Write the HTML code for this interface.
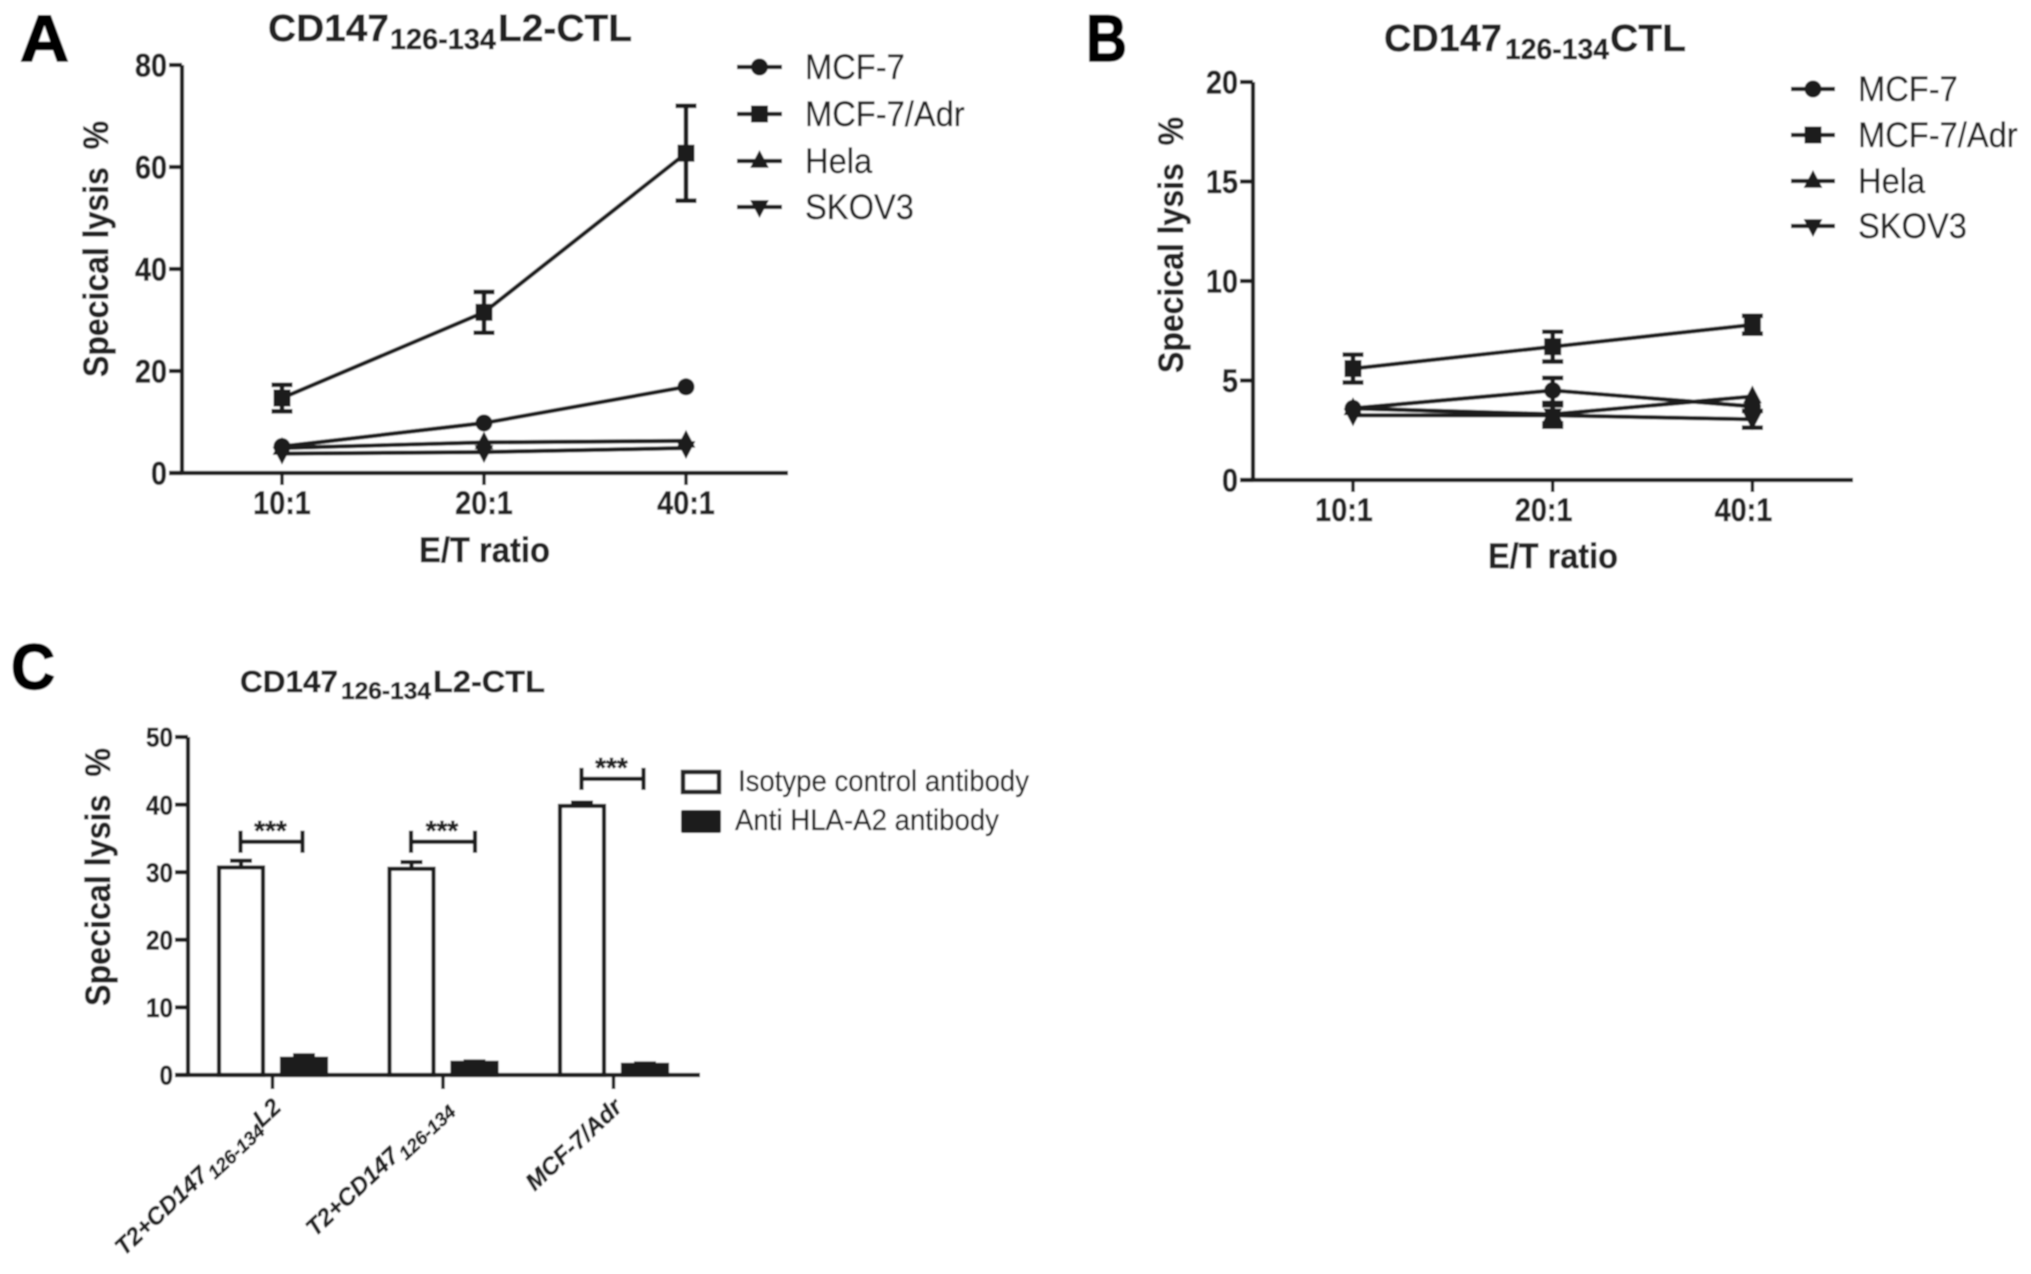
<!DOCTYPE html>
<html lang="en">
<head>
<meta charset="utf-8">
<title>CD147 specific lysis charts</title>
<style>
html,body{margin:0;padding:0;background:#fff;width:2031px;height:1274px;overflow:hidden}
svg{display:block}
text{font-family:"Liberation Sans",sans-serif;fill:#222;stroke:#222;stroke-width:.3px}
.b{font-weight:bold;stroke:#2a2a2a;stroke-width:.5px}
.panel{fill:#000;font-weight:bold;stroke:#000;stroke-width:1.5px}
</style>
</head>
<body>
<svg id="figure" xmlns="http://www.w3.org/2000/svg" width="2031" height="1274" viewBox="0 0 2031 1274">
<defs><filter id="soft" x="0" y="0" width="100%" height="100%"><feGaussianBlur stdDeviation="0.8"/></filter></defs>
<g id="root" filter="url(#soft)">
<rect width="2031" height="1274" fill="#fff"/>

<text class="panel" x="20" y="61" font-size="66" textLength="49" lengthAdjust="spacingAndGlyphs">A</text>
<text class="panel" x="1086" y="61" font-size="66" textLength="41" lengthAdjust="spacingAndGlyphs">B</text>
<text class="panel" x="11" y="689" font-size="64" textLength="44" lengthAdjust="spacingAndGlyphs">C</text>

<text class="b" font-size="38"><tspan x="268" y="41" textLength="121" lengthAdjust="spacingAndGlyphs">CD147</tspan><tspan x="390" y="49" font-size="29" textLength="106" lengthAdjust="spacingAndGlyphs">126-134</tspan><tspan x="498" y="41" textLength="134" lengthAdjust="spacingAndGlyphs">L2-CTL</tspan></text>
<text class="b" font-size="38"><tspan x="1384" y="51" textLength="118" lengthAdjust="spacingAndGlyphs">CD147</tspan><tspan x="1505" y="59" font-size="29" textLength="104" lengthAdjust="spacingAndGlyphs">126-134</tspan><tspan x="1610" y="51" textLength="76" lengthAdjust="spacingAndGlyphs">CTL</tspan></text>
<text class="b" font-size="31"><tspan x="240" y="692" textLength="98" lengthAdjust="spacingAndGlyphs">CD147</tspan><tspan x="341" y="699" font-size="24" textLength="90" lengthAdjust="spacingAndGlyphs">126-134</tspan><tspan x="433" y="692" textLength="112" lengthAdjust="spacingAndGlyphs">L2-CTL</tspan></text>

<text class="b" transform="translate(108,377) rotate(-90)" font-size="35" textLength="256" lengthAdjust="spacingAndGlyphs" xml:space="preserve">Specical lysis  %</text>
<text class="b" transform="translate(1183,373) rotate(-90)" font-size="35" textLength="256" lengthAdjust="spacingAndGlyphs" xml:space="preserve">Specical lysis  %</text>
<text class="b" transform="translate(110,1006) rotate(-90)" font-size="35" textLength="258" lengthAdjust="spacingAndGlyphs" xml:space="preserve">Specical lysis  %</text>

<text class="b" x="419" y="562" font-size="35" textLength="131" lengthAdjust="spacingAndGlyphs">E/T ratio</text>
<text class="b" x="1488" y="568" font-size="35" textLength="130" lengthAdjust="spacingAndGlyphs">E/T ratio</text>

<g id="chartA"></g>
<g id="chartB"></g>
<g id="chartC"></g>

<g id="legendA"></g>
<g id="legendB"></g>

<g>
<rect x="683" y="772" width="36" height="20" fill="#fff" stroke="#222" stroke-width="4.5"/>
<text x="738" y="791" font-size="30" textLength="291" lengthAdjust="spacingAndGlyphs">Isotype control antibody</text>
<rect x="681" y="810" width="40" height="23" rx="2" fill="#1c1c1c"/>
<text x="735" y="830" font-size="30" textLength="264" lengthAdjust="spacingAndGlyphs">Anti HLA-A2 antibody</text>
</g>
</g>
</svg>
<script>
// ---- Line chart data ----
const ratioCategories = ['10:1', '20:1', '40:1'];
const seriesNames = ['MCF-7', 'MCF-7/Adr', 'Hela', 'SKOV3'];

const aTicks = [0, 20, 40, 60, 80];
const aMcf7 = [5.2, 9.8, 16.9];
const aMcf7Err = [0, 0, 0];
const aAdr = [14.7, 31.5, 62.7];
const aAdrErr = [2.6, 4.0, 9.3];
const aHela = [4.9, 6.0, 6.3];
const aHelaErr = [0, 0, 0];
const aSkov3 = [3.8, 4.1, 4.9];
const aSkov3Err = [0, 0, 0];

const bTicks = [0, 5, 10, 15, 20];
const bMcf7 = [3.6, 4.5, 3.7];
const bMcf7Err = [0, 0.63, 0];
const bAdr = [5.6, 6.7, 7.8];
const bAdrErr = [0.7, 0.75, 0.45];
const bHela = [3.6, 3.3, 4.2];
const bHelaErr = [0, 0.45, 0];
const bSkov3 = [3.25, 3.25, 3.05];
const bSkov3Err = [0, 0.57, 0.42];

// ---- Bar chart data ----
const cTicks = [0, 10, 20, 30, 40, 50];
const cIsotype = [30.7, 30.5, 39.8];
const cIsotypeErr = [1.0, 1.0, 0.5];
const cAnti = [2.4, 1.8, 1.5];
const cAntiErr = [0.5, 0.2, 0.2];
const cBracketLevels = [34.5, 34.5, 43.8];
const cSignificance = ['***', '***', '***'];
const cCategoryMain = ['T2+CD147', 'T2+CD147', 'MCF-7/Adr'];
const cCategorySub = ['126-134', '126-134', ''];
const cCategoryTail = ['L2', '', ''];

const NS = 'http://www.w3.org/2000/svg';
const INK = '#1f1f1f';
const SW = 4.2;

function make(tag, attrs, parent) {
  const node = document.createElementNS(NS, tag);
  for (const k in attrs) node.setAttribute(k, attrs[k]);
  parent.appendChild(node);
  return node;
}

function condense(node, factor) {
  node.setAttribute('textLength', node.getComputedTextLength() * factor);
  node.setAttribute('lengthAdjust', 'spacingAndGlyphs');
}

function scale(d0, d1, r0, r1) {
  return function (v) { return r0 + (v - d0) * (r1 - r0) / (d1 - d0); };
}

function drawMarker(kind, cx, cy, s, parent) {
  let m;
  if (kind === 0) {
    m = make('circle', { cx: cx, cy: cy, r: s, fill: INK }, parent);
  } else if (kind === 1) {
    m = make('rect', { x: cx - s, y: cy - s, width: 2 * s, height: 2 * s, fill: INK }, parent);
  } else if (kind === 2) {
    m = make('polygon', { points: (cx) + ',' + (cy - s * 1.3) + ' ' + (cx + s * 1.1) + ',' + (cy + s * 0.8) + ' ' + (cx - s * 1.1) + ',' + (cy + s * 0.8), fill: INK }, parent);
  } else {
    m = make('polygon', { points: (cx) + ',' + (cy + s * 1.3) + ' ' + (cx + s * 1.1) + ',' + (cy - s * 0.8) + ' ' + (cx - s * 1.1) + ',' + (cy - s * 0.8), fill: INK }, parent);
  }
  
  
}

function drawYAxis(parent, ticks, yFn, axisX, top, bottom, fontSize) {
  const ax = make('line', { x1: axisX, x2: axisX, y1: top, y2: bottom, stroke: INK, 'stroke-width': SW }, parent);
  
  
  ticks.forEach(function (t) {
    const y = yFn(t);
    const tk = make('line', { x1: axisX - 13, x2: axisX, y1: y, y2: y, stroke: INK, 'stroke-width': SW }, parent);
    
    
    const lb = make('text', { x: axisX - 15, y: y + fontSize * 0.36, 'text-anchor': 'end', 'font-size': fontSize, 'font-weight': 'bold', class: 'b' }, parent);
    lb.textContent = t;
    
    
    condense(lb, 0.9);
  });
}

function drawLineChart(cfg) {
  const parent = cfg.parent;
  const xFn = function (i) { return cfg.x0 + i * cfg.dx; };
  const yFn = scale(0, cfg.ticks[cfg.ticks.length - 1], cfg.y0, cfg.yTop);
  drawYAxis(parent, cfg.ticks, yFn, cfg.axisX, cfg.yTop, cfg.y0 + 2, 32);
  const xa = make('line', { x1: cfg.axisX - 13, x2: cfg.axisEnd, y1: cfg.y0, y2: cfg.y0, stroke: INK, 'stroke-width': SW }, parent);
  
  
  ratioCategories.forEach(function (c, i) {
    const tk = make('line', { x1: xFn(i), x2: xFn(i), y1: cfg.y0, y2: cfg.y0 + 12, stroke: INK, 'stroke-width': 3.5 }, parent);
    
    
    const lb = make('text', { x: xFn(i) + cfg.labelShift, y: cfg.y0 + 41, 'text-anchor': 'middle', 'font-size': 32, 'font-weight': 'bold', class: 'b' }, parent);
    lb.textContent = c;
    
    
    condense(lb, 0.9);
  });
  cfg.series.forEach(function (vals, s) {
    const errs = cfg.errors[s];
    const pts = vals.map(function (v, i) { return xFn(i) + ',' + yFn(v); }).join(' ');
    const pl = make('polyline', { points: pts, fill: 'none', stroke: INK, 'stroke-width': SW }, parent);
    
    
    vals.forEach(function (v, i) {
      const x = xFn(i), hi = yFn(v + errs[i]), lo = yFn(v - errs[i]);
      if (errs[i] > 0) {
        const d = 'M' + x + ' ' + hi + 'V' + lo + 'M' + (x - 10.5) + ' ' + hi + 'H' + (x + 10.5) + 'M' + (x - 10.5) + ' ' + lo + 'H' + (x + 10.5);
        const eb = make('path', { d: d, fill: 'none', stroke: INK, 'stroke-width': 4.6 }, parent);
        
        
      }
      drawMarker(s, x, yFn(v), 8.5, parent);
    });
  });
}

function drawLegend(parent, lineX0, lineX1, textX, ys) {
  seriesNames.forEach(function (name, s) {
    const y = ys[s];
    const ln = make('line', { x1: lineX0, x2: lineX1, y1: y, y2: y, stroke: INK, 'stroke-width': SW }, parent);
    
    
    drawMarker(s, (lineX0 + lineX1) / 2, y, 8.5, parent);
    const tx = make('text', { x: textX, y: y + 12, 'font-size': 35.5 }, parent);
    tx.textContent = name;
    
    
    condense(tx, 0.92);
  });
}

function drawBarChart(parent) {
  const axisX = 188, y0 = 1075, yTop = 737, axisEnd = 700;
  const yFn = scale(0, 50, y0, yTop);
  const groupX = function (i) { return 272.5 + i * 170.5; };
  drawYAxis(parent, cTicks, yFn, axisX, yTop, y0 + 2, 27);
  const drawBar = function (x, w, v, e, filled) {
    const top = yFn(v);
    const ec = make('path', { d: 'M' + x + ' ' + top + 'V' + yFn(v + e) + 'M' + (x - 11) + ' ' + yFn(v + e) + 'H' + (x + 11), fill: 'none', stroke: INK, 'stroke-width': SW }, parent);
    
    
    const r = make('rect', { x: x - w / 2, y: top, width: w, height: y0 - top, fill: filled ? '#1c1c1c' : '#fff', stroke: INK, 'stroke-width': SW }, parent);
    
    
  };
  cIsotype.forEach(function (v, i) {
    const g = groupX(i);
    drawBar(g - 31.5, 44, v, cIsotypeErr[i], false);
    drawBar(g + 31.5, 44, cAnti[i], cAntiErr[i], true);

    const tk = make('line', { x1: g, x2: g, y1: y0, y2: y0 + 14, stroke: INK, 'stroke-width': 3.5 }, parent);
    
    

    const by = yFn(cBracketLevels[i]);
    const bx0 = g - 32, bx1 = g + 30 + (i === 1 ? 2 : 0);
    const br = make('path', { d: 'M' + bx0 + ' ' + (by - 11) + 'V' + (by + 11) + 'M' + bx0 + ' ' + by + 'H' + bx1 + 'M' + bx1 + ' ' + (by - 11) + 'V' + (by + 11), fill: 'none', stroke: INK, 'stroke-width': SW }, parent);
    
    
    const st = make('text', { x: (bx0 + bx1) / 2 - 1, y: by - 2, 'text-anchor': 'middle', 'font-size': 28, class: 'b' }, parent);
    st.textContent = cSignificance[i];
    
    

    const lb = make('text', { transform: 'translate(' + (g + 10) + ',1109) rotate(-43)', 'text-anchor': 'end', 'font-size': 24, 'font-style': 'italic', class: 'b' }, parent);
    
    
    const a = make('tspan', {}, lb);
    a.textContent = cCategoryMain[i];
    if (cCategorySub[i]) {
      const b = make('tspan', { dy: 6, dx: 2, 'font-size': 19 }, lb);
      b.textContent = cCategorySub[i];
    }
    if (cCategoryTail[i]) {
      const c = make('tspan', { dy: -6 }, lb);
      c.textContent = cCategoryTail[i];
    }
  });
  const xa = make('line', { x1: axisX - 13, x2: axisEnd, y1: y0, y2: y0, stroke: INK, 'stroke-width': SW }, parent);
  
  
}

drawLineChart({
  parent: document.getElementById('chartA'),
  ticks: aTicks, axisX: 182, axisEnd: 788, y0: 473, yTop: 65, x0: 282, dx: 202, labelShift: 0,
  series: [aMcf7, aAdr, aHela, aSkov3],
  errors: [aMcf7Err, aAdrErr, aHelaErr, aSkov3Err]
});
drawLineChart({
  parent: document.getElementById('chartB'),
  ticks: bTicks, axisX: 1253, axisEnd: 1853, y0: 480, yTop: 82, x0: 1353, dx: 199.7, labelShift: -9,
  series: [bMcf7, bAdr, bHela, bSkov3],
  errors: [bMcf7Err, bAdrErr, bHelaErr, bSkov3Err]
});
drawLegend(document.getElementById('legendA'), 737, 782, 805, [67, 114, 161, 207]);
drawLegend(document.getElementById('legendB'), 1791, 1835, 1858, [89, 135, 181, 226]);
drawBarChart(document.getElementById('chartC'));
</script>
</body>
</html>
